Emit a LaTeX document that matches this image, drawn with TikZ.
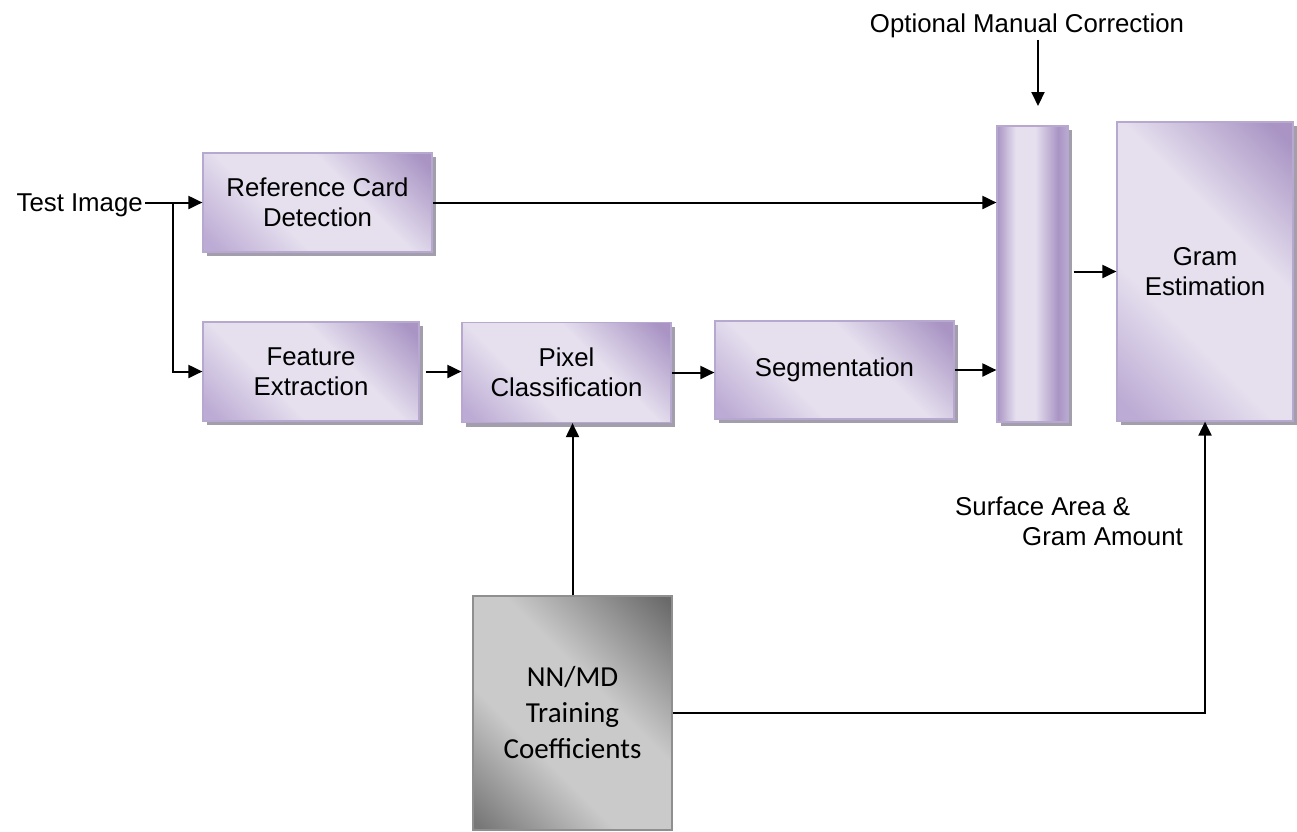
\documentclass[tikz,border=0pt]{standalone}
\usepackage{fontspec}
\setmainfont{Liberation Sans}
\newfontfamily\calibfont{Carlito}
\usetikzlibrary{arrows.meta,shadows}
\definecolor{pdark}{HTML}{A994C4}
\definecolor{pmid}{HTML}{BCABD4}
\definecolor{plight}{HTML}{E5DFEE}
\definecolor{pborder}{HTML}{B7A8D0}
\definecolor{shadowc}{HTML}{A29EAB}
\definecolor{gdarkA}{HTML}{6A6A6A}
\definecolor{gdarkB}{HTML}{777777}
\definecolor{glight}{HTML}{CACACA}
\definecolor{gborder}{HTML}{8F8F8F}
\pgfdeclarehorizontalshading{purplediag}{100bp}{color(0bp)=(pmid); color(18bp)=(pmid); color(38bp)=(plight); color(60bp)=(plight); color(82bp)=(pdark); color(100bp)=(pdark)}
\pgfdeclarehorizontalshading{purplecol}{100bp}{color(0bp)=(pdark); color(25bp)=(pdark); color(38bp)=(plight); color(52bp)=(plight); color(68bp)=(pdark); color(75bp)=(pmid); color(100bp)=(pmid)}
\pgfdeclarehorizontalshading{graydiag}{100bp}{color(0bp)=(gdarkB); color(16bp)=(gdarkB); color(38bp)=(glight); color(58bp)=(glight); color(84bp)=(gdarkA); color(100bp)=(gdarkA)}
\newcommand\boxfont{\fontsize{25.8}{29.5}\selectfont}
\newcommand\nnfont{\calibfont\fontsize{29}{36}\selectfont}
\tikzset{
  pbox/.style={shade, shading=purplediag, shading angle=45, draw=pborder, line width=1.2pt,
    drop shadow={shadow xshift=4pt, shadow yshift=-4pt, fill=shadowc, opacity=1},
    align=center, inner sep=0pt, font=\boxfont},
  colbox/.style={pbox, shading=purplecol, shading angle=0},
  graybox/.style={shade, shading=graydiag, shading angle=45, draw=gborder, line width=1.2pt,
    align=center, inner sep=0pt, font=\nnfont},
  lbl/.style={inner sep=0pt, font=\boxfont},
  arr/.style={line width=2pt, -{Triangle[length=14pt,width=13pt]}}
}
\begin{document}
\begin{tikzpicture}[x=1pt,y=-1pt]
\useasboundingbox (0,0) rectangle (1297,831);
\clip (0,0) rectangle (1297,831);

% boxes
\node[pbox, minimum width=229pt, minimum height=99pt] (ref) at (317.5,202.5) {Reference Card\\Detection};
\node[pbox, minimum width=216pt, minimum height=99pt] (feat) at (311,371.5) {Feature\\Extraction};
\node[pbox, minimum width=209pt, minimum height=100pt] (pix) at (566.5,372.5) {Pixel\\Classification};
\node[pbox, minimum width=239pt, minimum height=98pt] (seg) at (834.5,370) {Segmentation};
\node[colbox, minimum width=71pt, minimum height=296pt] (vbox) at (1032.5,274) {};
\node[pbox, minimum width=176pt, minimum height=299pt] (gram) at (1205,271.5) {Gram\\Estimation};
\node[graybox, minimum width=199pt, minimum height=234pt] (nn) at (572.5,713) {NN/MD\\Training\\Coefficients};

% labels
\node[lbl, anchor=base east] (test) at (143,211) {Test Image};
\node[lbl, anchor=base] (opt) at (1027,32) {Optional Manual Correction};
\node[lbl, anchor=base west, align=left] (surf) at (955,545) {Surface Area \&\\\hspace*{67pt}Gram Amount};

% connectors
\coordinate (br) at (173,0);
\coordinate (optend) at (1038,106);
\draw[arr, shorten <=2pt] (test.east |- ref.west) -- (ref.west);
\draw[arr] (br |- ref.west) |- (feat.west);
\draw[arr] (ref.east) -- (ref.east -| vbox.west);
\draw[arr, shorten <=6pt] (feat.east) -- (feat.east -| pix.west);
\draw[arr] (pix.east) -- (pix.east -| seg.west);
\draw[arr] (seg.east) -- (seg.east -| vbox.west);
\draw[arr, shorten <=5pt] (vbox.east |- gram.west) -- (gram.west);
\draw[arr, shorten <=2pt] (opt.south -| optend) -- (optend);
\draw[arr] (nn.north) -- (nn.north |- pix.south);
\draw[arr] (nn.east) -| (gram.south);
\end{tikzpicture}
\end{document}
